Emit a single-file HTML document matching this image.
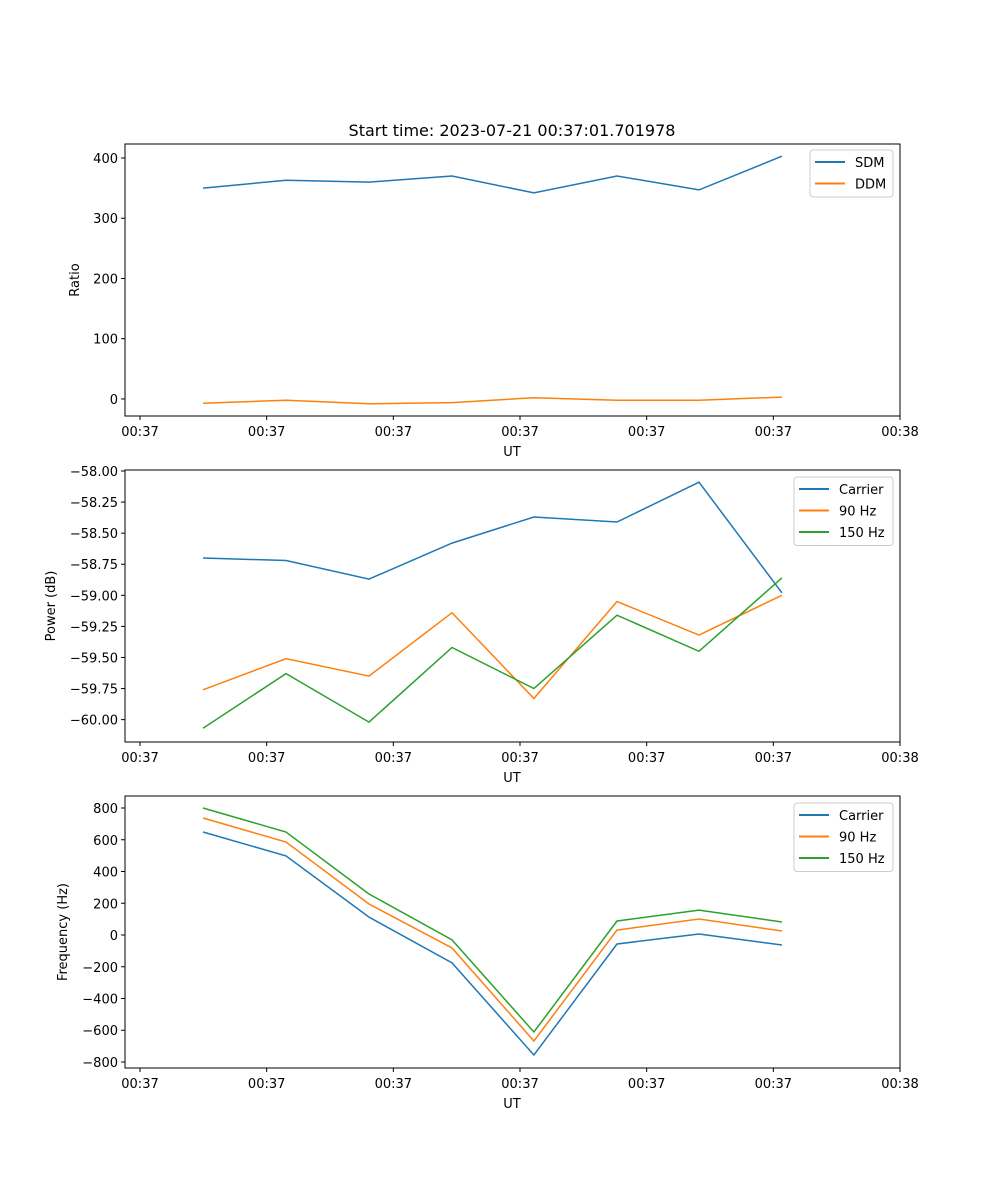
<!DOCTYPE html>
<html><head><meta charset="utf-8"><style>
html,body{margin:0;padding:0;background:#fff}
svg{display:block;font-family:"DejaVu Sans","Liberation Sans",sans-serif}
</style></head><body>
<svg id="c" width="1000" height="1200" viewBox="0 0 1000 1200" xmlns="http://www.w3.org/2000/svg">
<rect width="1000" height="1200" fill="#fff"/>
<text x="512" y="136" font-size="16" text-anchor="middle">Start time: 2023-07-21 00:37:01.701978</text>
</svg>
<script>
const times = [4.97, 11.53, 18.08, 24.63, 31.1, 37.66, 44.13, 50.68];
const xTicks = [0, 10, 20, 30, 40, 50, 60];
const xTickLabels = ["00:37","00:37","00:37","00:37","00:37","00:37","00:38"];
const sdm = [350, 363, 360, 370, 342, 370, 347, 403];
const ddm = [-7, -2, -8, -6, 2, -2, -2, 3];
const powCarrier = [-58.70, -58.72, -58.87, -58.58, -58.37, -58.41, -58.09, -58.98];
const pow90 = [-59.76, -59.51, -59.65, -59.14, -59.83, -59.05, -59.32, -59.00];
const pow150 = [-60.07, -59.63, -60.02, -59.42, -59.75, -59.16, -59.45, -58.86];
const frqCarrier = [649, 498, 113, -176, -756, -57, 6, -63];
const frq90 = [737, 586, 195, -82, -668, 31, 101, 25];
const frq150 = [800, 649, 258, -31, -611, 88, 157, 82];
const ticks1 = [0, 100, 200, 300, 400];
const ticks2 = [-58.00, -58.25, -58.50, -58.75, -59.00, -59.25, -59.50, -59.75, -60.00];
const ticks3 = [800, 600, 400, 200, 0, -200, -400, -600, -800];

const NS = "http://www.w3.org/2000/svg";
const svg = document.getElementById('c');
function mk(tag, attrs, parent, text){
  const e = document.createElementNS(NS, tag);
  for (const k in attrs) e.setAttribute(k, attrs[k]);
  if (text !== undefined) e.textContent = text;
  (parent || svg).appendChild(e);
  return e;
}
const L = 125, R = 900;
const xs = t => 140 + t * (760 / 60);
function fmt(v, dec){ const s = Math.abs(v).toFixed(dec); return (v < 0 ? "\u2212" : "") + s; }

function panel(name, top, bottom, yMin, yMax, yTicks, dec, ylabel, ylabelX, series, legend){
  const g = mk('g', {});
  
  
  const ys = v => bottom - (v - yMin) / (yMax - yMin) * (bottom - top);
  // series
  series.forEach(s => {
    const p = mk('polyline', {points: s.vals.map((v,i) => xs(times[i]).toFixed(1)+','+ys(v).toFixed(1)).join(' '), fill:'none', stroke:s.color, 'stroke-width':1.5}, g);
    
    
  });
  mk('rect', {x:L, y:top, width:R-L, height:bottom-top, fill:'none', stroke:'#000', 'stroke-width':1}, g);
  // x ticks
  xTicks.forEach((t,i) => {
    const x = xs(t);
    mk('line', {x1:x, x2:x, y1:bottom, y2:bottom+4, stroke:'#000', 'stroke-width':1}, g);
    const tl = mk('text', {x:x, y:bottom+20, 'font-size':13, 'text-anchor':'middle'}, g, xTickLabels[i]);
    
    
  });
  const xl = mk('text', {x:512, y:bottom+40, 'font-size':13, 'text-anchor':'middle'}, g, 'UT');
  
  
  yTicks.forEach(v => {
    const y = ys(v);
    mk('line', {x1:L-4, x2:L, y1:y, y2:y, stroke:'#000', 'stroke-width':1}, g);
    const tl = mk('text', {x:L-7, y:y+5, 'font-size':13, 'text-anchor':'end'}, g, fmt(v, dec));
    
    
  });
  const cy = (top + bottom) / 2;
  const yl = mk('text', {x:ylabelX, y:cy, 'font-size':13, 'text-anchor':'middle', transform:'rotate(-90 '+ylabelX+' '+cy+')'}, g, ylabel);
  
  
  // legend
  const lg = mk('g', {}, g);
  
  
  mk('rect', {x:legend.x, y:legend.y, width:legend.w, height:series.length*21.5+4, rx:3, fill:'#fff', stroke:'#ccc', 'stroke-width':1}, lg);
  series.forEach((s,i) => {
    const y = legend.y + 12 + i*21.5;
    mk('line', {x1:legend.x+5, x2:legend.x+35, y1:y, y2:y, stroke:s.color, 'stroke-width':2}, lg);
    const t = mk('text', {x:legend.x+45, y:y+5, 'font-size':13}, lg, s.label);
    
    
  });
}
const B='#1f77b4', O='#ff7f0e', G='#2ca02c';
panel('ratio', 144, 416, -28.3, 423.2, ticks1, 0, 'Ratio', 79,
  [{key:'sdm',label:'SDM',vals:sdm,color:B},{key:'ddm',label:'DDM',vals:ddm,color:O}],
  {x:810, y:150, w:83});
panel('power', 470, 742, -60.18, -57.992, ticks2, 2, 'Power (dB)', 55,
  [{key:'carrier',label:'Carrier',vals:powCarrier,color:B},{key:'90hz',label:'90 Hz',vals:pow90,color:O},{key:'150hz',label:'150 Hz',vals:pow150,color:G}],
  {x:794, y:477, w:99});
panel('frequency', 796, 1068, -837.8, 875.6, ticks3, 0, 'Frequency (Hz)', 67,
  [{key:'carrier',label:'Carrier',vals:frqCarrier,color:B},{key:'90hz',label:'90 Hz',vals:frq90,color:O},{key:'150hz',label:'150 Hz',vals:frq150,color:G}],
  {x:794, y:803, w:99});
</script>
</body></html>
